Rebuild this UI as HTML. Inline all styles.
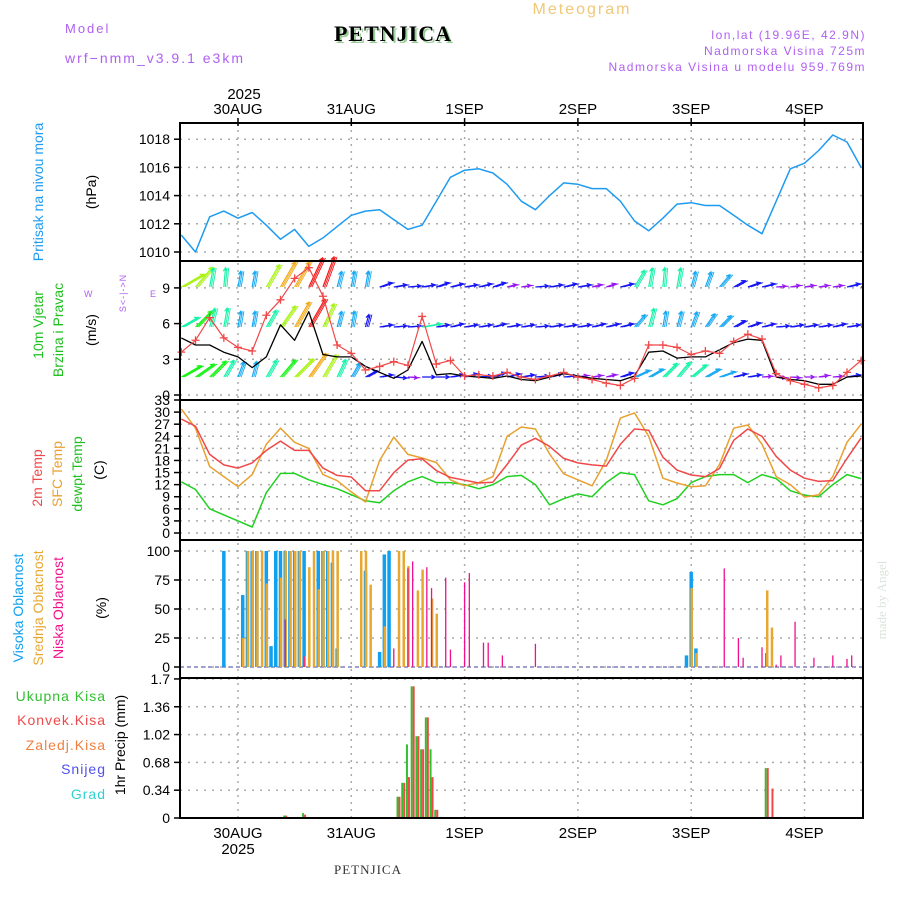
<!DOCTYPE html>
<html><head><meta charset="utf-8"><style>
body{margin:0;background:#fff;width:900px;height:900px;overflow:hidden}
svg{display:block;font-family:"Liberation Sans",sans-serif}
</style></head><body>
<svg id="chart" width="900" height="900" viewBox="0 0 900 900" xmlns="http://www.w3.org/2000/svg">
<g>
<text x="65" y="33" font-size="13" fill="#b060f0" letter-spacing="2">Model</text>
<text x="65" y="63" font-size="14" fill="#b060f0" letter-spacing="2">wrf−nmm_v3.9.1 e3km</text>
<text x="395" y="43" font-size="22" font-weight="bold" font-family="Liberation Serif,serif" text-anchor="middle" fill="#9c9" letter-spacing="1">PETNJICA</text>
<text x="393" y="41" font-size="22" font-weight="bold" font-family="Liberation Serif,serif" text-anchor="middle" fill="#000" letter-spacing="1">PETNJICA</text>
<text x="582" y="14" font-size="16" fill="#f0c878" text-anchor="middle" letter-spacing="2">Meteogram</text>
<text x="866" y="39" font-size="12" fill="#b060f0" text-anchor="end" letter-spacing="1.5">lon,lat (19.96E, 42.9N)</text>
<text x="866" y="55" font-size="12" fill="#b060f0" text-anchor="end" letter-spacing="1.5">Nadmorska Visina 725m</text>
<text x="866" y="71" font-size="12" fill="#b060f0" text-anchor="end" letter-spacing="1.5">Nadmorska Visina u modelu 959.769m</text>
</g>
<g id="grid"></g>
<g id="marks"></g>
<g id="frame"></g>
<g id="labels">
<text transform="translate(43,192) rotate(-90)" font-size="14" fill="#1e9bf0" text-anchor="middle">Pritisak na nivou mora</text>
<text transform="translate(96,192) rotate(-90)" font-size="14" fill="#000" text-anchor="middle">(hPa)</text>
<text transform="translate(43,325) rotate(-90)" font-size="14" fill="#20c020" text-anchor="middle">10m Vjetar</text>
<text transform="translate(63,330) rotate(-90)" font-size="14" fill="#20c020" text-anchor="middle">Brzina i Pravac</text>
<text transform="translate(96,330) rotate(-90)" font-size="14" fill="#000" text-anchor="middle">(m/s)</text>
<text transform="translate(126,293) rotate(-90)" font-size="9" fill="#b060f0" text-anchor="middle" letter-spacing="1">S&lt;-|-&gt;N</text>
<text x="84" y="297" font-size="9" fill="#b060f0">W</text>
<text x="150" y="297" font-size="9" fill="#b060f0">E</text>
<text transform="translate(42,478) rotate(-90)" font-size="14" fill="#f04848" text-anchor="middle">2m Temp</text>
<text transform="translate(62,474) rotate(-90)" font-size="14" fill="#e8a030" text-anchor="middle">SFC Temp</text>
<text transform="translate(82,474) rotate(-90)" font-size="14" fill="#20c020" text-anchor="middle">dewpt Temp</text>
<text transform="translate(104,470) rotate(-90)" font-size="14" fill="#000" text-anchor="middle">(C)</text>
<text transform="translate(23,608) rotate(-90)" font-size="14" fill="#10a0f0" text-anchor="middle">Visoka Oblacnost</text>
<text transform="translate(43,608) rotate(-90)" font-size="14" fill="#e8a830" text-anchor="middle">Srednja Oblacnost</text>
<text transform="translate(63,608) rotate(-90)" font-size="14" fill="#f0108c" text-anchor="middle">Niska Oblacnost</text>
<text transform="translate(106,608) rotate(-90)" font-size="14" fill="#000" text-anchor="middle">(%)</text>
<text x="106" y="701" font-size="14" fill="#30c030" text-anchor="end" letter-spacing="1">Ukupna  Kisa</text>
<text x="106" y="725" font-size="14" fill="#f04848" text-anchor="end" letter-spacing="1">Konvek.Kisa</text>
<text x="106" y="750" font-size="14" fill="#f08040" text-anchor="end" letter-spacing="1">Zaledj.Kisa</text>
<text x="106" y="774" font-size="14" fill="#5050f0" text-anchor="end" letter-spacing="1">Snijeg</text>
<text x="106" y="799" font-size="14" fill="#30d0d0" text-anchor="end" letter-spacing="1">Grad</text>
<text transform="translate(125,745) rotate(-90)" font-size="14" fill="#000" text-anchor="middle">1hr Precip (mm)</text>
<text transform="translate(886,600) rotate(-90)" font-size="13" fill="#dde4dd" text-anchor="middle" font-family="Liberation Serif,serif">made by Angel</text>
<text x="368" y="874" font-size="13" fill="#333" text-anchor="middle" font-family="Liberation Serif,serif" letter-spacing="1">PETNJICA</text>
</g>
</svg>
<script>
// time grid: hours since 30AUG 00Z, every 3h
const hours3 = [-12,-9,-6,-3,0,3,6,9,12,15,18,21,24,27,30,33,36,39,42,45,48,51,54,57,60,63,66,69,72,75,78,81,84,87,90,93,96,99,102,105,108,111,114,117,120,123,126,129,132];
const dayLabels = ["30AUG","31AUG","1SEP","2SEP","3SEP","4SEP"];
const dayHours = [0,24,48,72,96,120];
const pressure = [1011.2,1010.0,1012.5,1012.9,1012.4,1012.8,1011.9,1010.9,1011.6,1010.4,1011.0,1011.8,1012.6,1012.9,1013.0,1012.3,1011.6,1011.9,1013.6,1015.3,1015.8,1015.9,1015.6,1014.8,1013.6,1013.0,1014.0,1014.9,1014.8,1014.5,1014.5,1013.6,1012.2,1011.5,1012.4,1013.4,1013.5,1013.3,1013.3,1012.6,1011.9,1011.3,1013.6,1015.9,1016.3,1017.2,1018.3,1017.8,1016.0];
const windSpeed = [4.8,4.2,4.2,3.6,3.2,2.3,3.2,5.9,4.6,7.0,3.4,3.2,3.2,2.4,1.9,1.4,2.1,4.5,1.7,1.8,1.6,1.5,1.4,1.6,1.3,1.2,1.5,1.8,1.6,1.4,1.3,1.2,1.6,3.6,3.7,3.1,3.2,3.2,3.8,4.4,4.7,4.6,1.5,1.3,1.2,0.9,0.9,1.5,1.6];
const windGust = [3.6,4.6,6.5,4.8,4.0,3.7,6.7,8.0,9.8,10.7,8.3,4.2,3.5,2.1,2.4,2.8,2.5,6.6,2.6,2.9,1.6,1.7,1.6,1.9,1.5,1.3,1.6,1.9,1.5,1.3,1.0,0.8,1.4,4.2,4.2,4.0,3.4,3.7,3.5,4.5,5.1,4.7,1.8,1.2,0.9,0.6,0.8,1.9,2.9];
const dirTop = [60,40,10,5,10,10,30,30,30,25,20,15,10,10,70,80,85,80,70,75,80,75,70,75,80,85,80,75,80,75,70,75,30,10,5,10,15,20,40,60,70,75,85,80,80,80,80,75,80];
const spdTop = [8,8,6,6,5,5,8,9,9,10,10,5,5,5,4,4,4,4,4,4,4,4,4,3,3,4,4,4,4,3,3,4,6,6,6,6,5,5,5,4,4,4,3,3,3,3,3,4,4];
const dirMid = [60,45,15,10,10,10,30,35,30,30,25,15,10,15,80,85,85,80,80,75,80,80,75,80,80,85,80,80,80,75,75,75,40,15,10,15,20,35,45,60,70,75,85,80,80,80,75,80,80];
const spdMid = [6,7,6,6,5,5,6,8,9,10,8,5,5,4,4,4,4,6,4,4,4,4,4,4,4,4,4,4,4,4,4,4,5,6,5,5,5,5,5,4,4,4,4,4,4,4,4,4,4];
const dirLow = [60,55,45,30,20,15,30,40,45,35,30,25,30,60,80,95,95,90,90,80,75,85,70,75,80,85,75,85,80,80,75,70,65,60,45,40,50,60,70,75,80,85,95,95,90,80,85,80,95];
const spdLow = [7,7,7,6,5,5,6,7,8,9,8,6,5,4,4,4,3,4,4,4,4,4,4,4,4,4,4,4,3,3,3,4,5,5,6,6,6,5,5,4,4,3,3,3,3,3,3,4,4];
const temp2m = [28.3,26.5,19.5,16.9,16.1,17.4,20.5,22.8,20.5,20.5,16.1,14.3,13.9,10.5,10.5,15.0,18.1,18.4,15.5,13.8,13.1,12.4,12.6,17.0,21.8,23.5,21.5,18.5,17.4,16.9,16.6,22.0,25.8,25.5,18.8,15.6,14.4,14.0,16.0,23.0,25.8,24.0,19.0,15.6,13.6,12.8,13.0,18.5,23.6];
const tempSfc = [30.8,26.0,16.5,14.0,11.5,14.5,22.0,26.0,22.5,21.0,14.5,13.0,10.2,7.7,18.0,23.8,19.5,18.6,17.5,13.2,11.7,12.5,14.0,24.0,26.3,25.8,19.6,14.7,13.2,11.7,18.0,28.5,29.8,24.0,13.6,12.4,11.5,11.7,17.0,26.0,26.8,22.0,14.0,12.0,8.9,9.5,14.0,22.5,27.0];
const dewpoint = [12.7,10.8,6.0,4.5,3.0,1.5,10.0,14.8,14.8,13.2,12.0,11.0,9.5,8.0,7.5,10.5,12.7,14.0,12.5,12.5,12.0,11.0,12.0,14.0,14.3,12.0,7.0,8.5,9.7,9.0,12.5,15.0,14.5,8.0,7.0,8.5,12.5,14.0,14.5,14.5,12.5,14.5,13.5,10.5,9.4,9.0,12.0,14.5,13.5];
const cloudHighHours = [-3,1,2,3,4,6,7,8,9,10,11,12,13,14,17,18,19,20,21,27,30,31,32,95,96,97,112];
const cloudHighVals = [100,62,100,100,100,100,18,100,100,100,100,100,100,100,100,100,100,90,16,83,13,97,100,10,82,16,12];
const cloudMidHours = [1,2,3,4,5,6,9,10,11,12,13,14,15,16,17,18,19,20,21,26,27,28,31,34,35,36,38,39,41,42,96,97,112,113];
const cloudMidVals = [25,100,100,100,100,72,77,100,100,100,100,9,86,100,67,100,100,100,100,100,100,71,35,100,100,87,66,84,59,46,68,12,66,34];
const cloudLowHours = [10,14,33,36,37,40,41,44,45,48,49,52,53,56,63,103,106,107,111,114,115,118,122,126,129,130];
const cloudLowVals = [41,9,16,85,91,86,68,77,15,73,81,21,21,10,20,85,25,8,17,2,10,39,8,10,7,10];
const precipHours = [10,14,34,35,36,37,38,39,40,41,42,112,113];
const precipTotal = [0.03,0.06,0.26,0.43,0.90,1.61,1.00,0.84,1.23,0.84,0.10,0.61,0.0];
const precipConv = [0.03,0.04,0.26,0.43,0.50,1.61,1.00,0.84,1.23,0.50,0.10,0.61,0.36];
const pTicks = [1010,1012,1014,1016,1018];
const wTicks = [0,3,6,9];
const tTicks = [0,3,6,9,12,15,18,21,24,27,30,33];
const cTicks = [0,25,50,75,100];
const rTicks = [0,0.34,0.68,1.02,1.36,1.7];
const rTickLabels = ["0","0.34","0.68","1.02","1.36","1.7"];

const NS="http://www.w3.org/2000/svg";
const L=180,R=863;
const xOf=h=>238+h*113.3/24;
const yP=v=>252-(v-1010)*14.1;
const yW=v=>395-v*11.9;
const yT=v=>533-v*4.03;
const yC=v=>667-v*1.16;
const yR=v=>818-v*81.8;
const panels=[[123,261],[261,400],[400,540],[540,678],[678,818]];
const grid=document.getElementById('grid'),marks=document.getElementById('marks'),frame=document.getElementById('frame'),labs=document.getElementById('labels');
function mk(tag,attrs,parent){const e=document.createElementNS(NS,tag);for(const k in attrs)e.setAttribute(k,attrs[k]);parent.appendChild(e);return e;}
function txt(s,x,y,anchor,parent,size){const t=mk('text',{x:x,y:y,'text-anchor':anchor,'font-size':size||14,fill:'#000'},parent);t.textContent=s;return t;}

dayHours.forEach((h,i)=>{
  const l=mk('line',{x1:xOf(h),x2:xOf(h),y1:123,y2:818,stroke:'#aaa','stroke-width':1.5,'stroke-dasharray':'2,5'},grid);
  
  
  const t1=txt(dayLabels[i],xOf(h),114,'middle',labs,15);
  
  
  const t2=txt(dayLabels[i],xOf(h),838,'middle',labs,15);
  
  
  const tk=mk('line',{x1:xOf(h),x2:xOf(h),y1:118,y2:126,stroke:'#000','stroke-width':1.5},frame);
  
  
});
const y1=txt('2025',xOf(0)+6,99,'middle',labs,15);


const y2=txt('2025',xOf(0),854,'middle',labs,15);



function yAxis(ticks,labels,fy,name,gridOn){
  ticks.forEach((v,i)=>{
    const y=fy(v);
    if(gridOn){const g=mk('line',{x1:L,x2:R,y1:y,y2:y,stroke:'#aaa','stroke-width':1.5,'stroke-dasharray':'2,6'},grid);
    
    }
    const t=mk('line',{x1:L-6,x2:L,y1:y,y2:y,stroke:'#000','stroke-width':1.5},frame);
    
    
    const tl=txt(labels?labels[i]:String(v),L-10,y+5,'end',labs,14);
    
    
  });
}
yAxis(pTicks,null,yP,'pressure',true);
yAxis(wTicks,null,yW,'wind',true);
yAxis(tTicks,null,yT,'temp',true);
yAxis(cTicks,null,yC,'cloud',true);
yAxis(rTicks,rTickLabels,yR,'precip',true);

function line(vals,fy,color,name,w){
  const d=vals.map((v,i)=>(i?'L':'M')+xOf(hours3[i]).toFixed(1)+','+fy(v).toFixed(1)).join('');
  const p=mk('path',{d:d,fill:'none',stroke:color,'stroke-width':w||1.5,'stroke-linejoin':'round'},marks);
  
  
}
line(pressure,yP,'#1e9bf0','pressure-line');

const clip=mk('clipPath',{id:'wclip'},marks);mk('rect',{x:L,y:240,width:R-L,height:160},clip);
const wg=mk('g',{'clip-path':'url(#wclip)'},marks);


function arrows(dirs,spds,base,name){
  dirs.forEach((d,i)=>{
    const s=spds[i],len=s*3.2,a=d*Math.PI/180;
    const x0=xOf(hours3[i]),x1=x0+len*Math.sin(a),y1=base-len*Math.cos(a);
    const hue=Math.max(0,Math.min(275,280-(s-3)*40));
    const col='hsl('+hue+',90%,52%)';
    const ha=a+Math.PI;
    const hx1=x1+4*Math.sin(ha+0.5),hy1=y1-4*Math.cos(ha+0.5),hx2=x1+4*Math.sin(ha-0.5),hy2=y1-4*Math.cos(ha-0.5);
    const p=mk('path',{d:'M'+x0+','+base+'L'+x1+','+y1+'M'+hx1+','+hy1+'L'+x1+','+y1+'L'+hx2+','+hy2,stroke:col,'stroke-width':1.2,fill:'none'},wg);
    
    
    for(let k=1;k<3;k++){
      const xo=x0+k*1.57;
      const q=mk('line',{x1:xo,y1:base,x2:xo+len*Math.sin(a),y2:base-len*Math.cos(a),stroke:col,'stroke-width':0.9},wg);
      
      
    }
  });
}
arrows(dirTop,spdTop,287,'wind-arrow-top');
arrows(dirMid,spdMid,327,'wind-arrow-mid');
arrows(dirLow,spdLow,377,'wind-arrow-low');
line(windSpeed,yW,'#000','wind-speed-line',1.3);
line(windGust,yW,'#f04848','wind-gust-line',1.2);
windGust.forEach((v,i)=>{
  const x=xOf(hours3[i]),y=yW(v);
  const p=mk('path',{d:`M${x-4},${y}h8M${x},${y-4}v8`,stroke:'#f04848','stroke-width':1.3},marks);
  
  
});

line(dewpoint,yT,'#20d020','dewpoint-line');
line(tempSfc,yT,'#e8a030','sfc-temp-line');
line(temp2m,yT,'#f04848','temp-2m-line');

const cb=mk('line',{x1:L,x2:R,y1:yC(0),y2:yC(0),stroke:'#a0a0d0','stroke-width':2,'stroke-dasharray':'4,3'},marks);


function bars(hrs,vals,fy,color,w,off,name){
  hrs.forEach((h,i)=>{
    const x=xOf(h)+off,y=fy(vals[i]),y0=fy(0);
    const r=mk('rect',{x:x-w/2,y:Math.min(y,y0),width:w,height:Math.abs(y0-y),fill:color},marks);
    
    
  });
}
bars(cloudHighHours,cloudHighVals,yC,'#10a0f0',3.5,0,'cloud-high-bar');
bars(cloudMidHours,cloudMidVals,yC,'#e8a830',2.5,0.5,'cloud-mid-bar');
bars(cloudLowHours,cloudLowVals,yC,'#f0108c',1.3,0,'cloud-low-bar');
bars(precipHours,precipTotal,yR,'#30c030',2,-1,'precip-total-bar');
bars(precipHours,precipConv,yR,'#f04848',2,1,'precip-convective-bar');
const pb=mk('line',{x1:L,x2:R,y1:818,y2:818,stroke:'#000','stroke-width':2,'stroke-dasharray':'5,2'},marks);



panels.forEach(p=>{
  const r=mk('rect',{x:L,y:p[0],width:R-L,height:p[1]-p[0],fill:'none',stroke:'#000','stroke-width':2},frame);
  
  
});
</script>
</body></html>
